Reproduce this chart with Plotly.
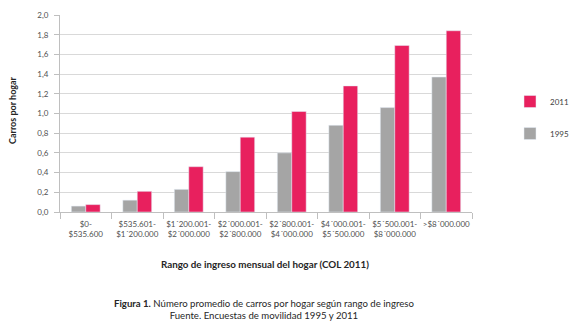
import plotly.graph_objects as go

categories = ["$0-<br>$535.600", "$535.601-<br>$1´200.000", "$1´200.001-<br>$2´000.000",
              "$2´000.001-<br>$2´800.000", "$2´800.001-<br>$4´000.000", "$4´000.001-<br>$5´500.000",
              "$5´500.001-<br>$8´000.000", ">$8´000.000"]
values_1995 = [0.06, 0.12, 0.23, 0.41, 0.60, 0.88, 1.06, 1.37]
values_2011 = [0.075, 0.21, 0.46, 0.76, 1.02, 1.28, 1.69, 1.84]
y_ticks = [0, 0.2, 0.4, 0.6, 0.8, 1.0, 1.2, 1.4, 1.6, 1.8, 2.0]

FONT = "Lato"
L, R, T, B = 60, 101, 15, 117
W, H = 573, 329
pw = W - L - R
ph = H - T - B

fig = go.Figure()
fig.add_trace(go.Bar(x=categories, y=values_1995, name="1995", marker_color="#A5A5A5",
                     legendgroup="a", legendrank=2))
fig.add_trace(go.Bar(x=categories, y=values_2011, name="2011", marker_color="#E8205E",
                     legendgroup="b", legendrank=1))

fig.update_layout(
    width=W, height=H,
    margin=dict(l=L, r=R, t=T, b=B, autoexpand=False),
    paper_bgcolor="white", plot_bgcolor="white",
    separators=",.",
    barmode="group", bargap=0.44, bargroupgap=0,
    font=dict(family=FONT, color="#404040"),
    legend=dict(x=(510 - L) / pw, y=(H - B - 87) / ph, xanchor="left", yanchor="top",
                traceorder="grouped", tracegroupgap=13,
                font=dict(size=8, color="#404040"), itemwidth=30),
    xaxis=dict(
        automargin=False,
        showline=True, linecolor="#BFBFBF", linewidth=1,
        ticks="outside", tickson="boundaries", ticklen=6, tickcolor="#BFBFBF",
        tickfont=dict(size=8, color="#505050"), tickangle=0, ticklabelstandoff=4,
    ),
    yaxis=dict(
        automargin=False,
        range=[0, 2.0], tickvals=y_ticks, tickformat=".1f",
        showline=True, linecolor="#BFBFBF", linewidth=1,
        ticks="outside", ticklen=5, tickcolor="#BFBFBF",
        showgrid=True, gridcolor="#D9D9D9", gridwidth=1,
        tickfont=dict(size=8, color="#505050"), ticklabelstandoff=4,
        zeroline=False,
    ),
    annotations=[
        dict(text="<b>Carros por hogar</b>", textangle=-90,
             x=(12 - L) / pw, xref="paper", y=(H - B - 110) / ph, yref="paper",
             xanchor="center", yanchor="middle",
             showarrow=False, font=dict(size=9, color="#262626")),
        dict(text="<b>Rango de ingreso mensual del hogar (COL 2011)</b>",
             x=(265 - L) / pw, xref="paper", y=(H - B - 264) / ph, yref="paper",
             xanchor="center", yanchor="middle",
             showarrow=False, font=dict(size=9.8, color="#262626")),
        dict(text="<b>Figura 1.</b> Número promedio de carros por hogar según rango de ingreso"
                  "<br>Fuente. Encuestas de movilidad 1995 y 2011",
             x=(264 - L) / pw, xref="paper", y=(H - B - 309) / ph, yref="paper",
             xanchor="center", yanchor="middle",
             showarrow=False, font=dict(size=9.6, color="#262626"), align="center"),
    ],
)
fig.write_html("out.html", config={"displayModeBar": False},
               post_script="document.body.style.margin='0';")
